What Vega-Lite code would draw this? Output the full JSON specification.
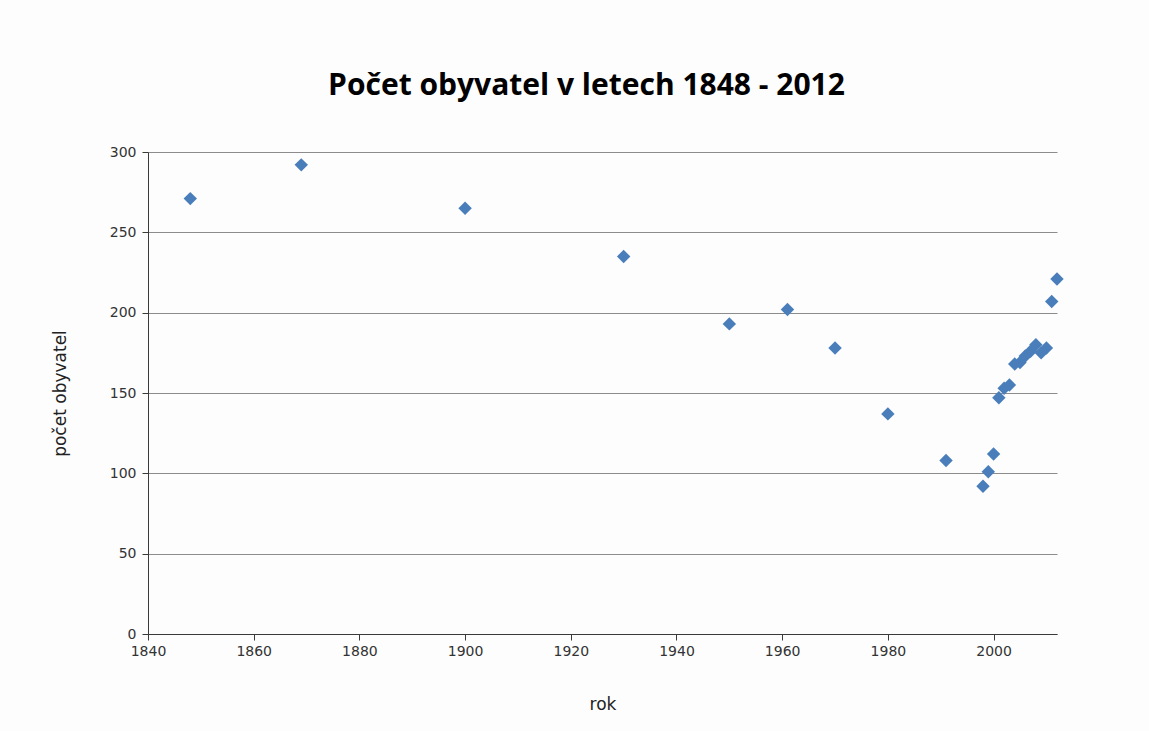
{
  "$schema": "https://vega.github.io/schema/vega-lite/v6.json",
  "autosize": "none",
  "padding": {"left": 148, "top": 152, "right": 92, "bottom": 97},
  "width": 909,
  "height": 482,
  "background": "#fdfdfd",
  "title": {
    "text": "Počet obyvatel v letech 1848 - 2012",
    "font": "Open Sans",
    "fontSize": 30,
    "fontWeight": "bold",
    "color": "#000000",
    "anchor": "middle",
    "dx": -16,
    "offset": 44
  },
  "data": {
    "values": [
      {"rok": 1848, "pocet": 271},
      {"rok": 1869, "pocet": 292},
      {"rok": 1900, "pocet": 265},
      {"rok": 1930, "pocet": 235},
      {"rok": 1950, "pocet": 193},
      {"rok": 1961, "pocet": 202},
      {"rok": 1970, "pocet": 178},
      {"rok": 1980, "pocet": 137},
      {"rok": 1991, "pocet": 108},
      {"rok": 1998, "pocet": 92},
      {"rok": 1999, "pocet": 101},
      {"rok": 2000, "pocet": 112},
      {"rok": 2001, "pocet": 147},
      {"rok": 2002, "pocet": 153},
      {"rok": 2003, "pocet": 155},
      {"rok": 2004, "pocet": 168},
      {"rok": 2005, "pocet": 169},
      {"rok": 2006, "pocet": 173},
      {"rok": 2007, "pocet": 176},
      {"rok": 2008, "pocet": 180},
      {"rok": 2009, "pocet": 175},
      {"rok": 2010, "pocet": 178},
      {"rok": 2011, "pocet": 207},
      {"rok": 2012, "pocet": 221}
    ]
  },
  "mark": {"type": "point", "shape": "diamond", "filled": true, "size": 180, "color": "#4a7ebb", "opacity": 1},
  "encoding": {
    "x": {
      "field": "rok",
      "type": "quantitative",
      "scale": {"domain": [1840, 2012], "nice": false, "zero": false},
      "axis": {
        "title": "rok",
        "values": [1840, 1860, 1880, 1900, 1920, 1940, 1960, 1980, 2000],
        "format": "d",
        "grid": false,
        "labelFlush": false,
        "domainColor": "#3a3a3a",
        "tickColor": "#3a3a3a",
        "tickSize": 6,
        "labelFont": "DejaVu Sans",
        "labelFontSize": 14,
        "labelColor": "#333333",
        "labelPadding": 4,
        "titleFont": "DejaVu Sans",
        "titleFontSize": 17,
        "titleFontWeight": "normal",
        "titleColor": "#222222",
        "titlePadding": 38
      }
    },
    "y": {
      "field": "pocet",
      "type": "quantitative",
      "scale": {"domain": [0, 300], "nice": false},
      "axis": {
        "title": "počet obyvatel",
        "values": [0, 50, 100, 150, 200, 250, 300],
        "grid": true,
        "labelFlush": false,
        "gridColor": "#8c8c8c",
        "gridWidth": 1,
        "domainColor": "#3a3a3a",
        "tickColor": "#3a3a3a",
        "tickSize": 6,
        "labelFont": "DejaVu Sans",
        "labelFontSize": 14,
        "labelColor": "#333333",
        "labelPadding": 6,
        "titleFont": "DejaVu Sans",
        "titleFontSize": 17,
        "titleFontWeight": "normal",
        "titleColor": "#222222",
        "titlePadding": 40
      }
    }
  },
  "config": {"view": {"stroke": null}}
}
